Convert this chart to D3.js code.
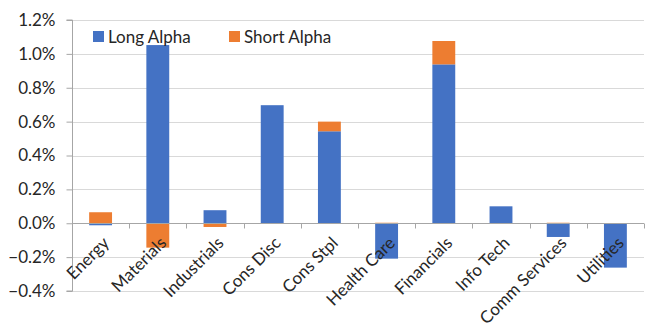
<!DOCTYPE html>
<html>
<head>
<meta charset="utf-8">
<script src="https://cdn.jsdelivr.net/npm/d3@7"></script>
<style>
  html, body { margin: 0; padding: 0; background: #fff; }
  svg { display: block; font-family: Lato, "Open Sans", sans-serif; }
</style>
</head>
<body>
<svg id="chart" width="646" height="327"></svg>
<script>
// Sector alpha contributions (percent)
const sectors = ["Energy", "Materials", "Industrials", "Cons Disc", "Cons Stpl",
                 "Health Care", "Financials", "Info Tech", "Comm Services", "Utilities"];
const longAlpha  = [-0.012, 1.052, 0.077, 0.697, 0.543, -0.209, 0.938, 0.100, -0.081, -0.262];
const shortAlpha = [ 0.065, -0.144, -0.022, 0.000, 0.057, 0.003, 0.138, 0.000, 0.003, 0.000];
const yTicks = [-0.4, -0.2, 0.0, 0.2, 0.4, 0.6, 0.8, 1.0, 1.2];
const seriesNames = ["Long Alpha", "Short Alpha"];
const colors = ["#4472C4", "#ED7D31"];

const svg = d3.select("#chart");
const margin = { left: 72, right: 2, top: 20, bottom: 36 };
const W = 646, H = 327;
const fontSize = "17px";

const x = d3.scaleBand().domain(sectors).range([margin.left, W - margin.right]).paddingInner(0.6).paddingOuter(0.3);
const y = d3.scaleLinear().domain([-0.4, 1.2]).range([H - margin.bottom, margin.top]);

// gridlines
svg.append("g").selectAll("line").data(yTicks).join("line")
  .attr("x1", margin.left).attr("x2", W - margin.right)
  .attr("y1", d => Math.round(y(d)) + 0.5).attr("y2", d => Math.round(y(d)) + 0.5)
  .attr("stroke", "#d9d9d9").attr("stroke-width", 1);

// stacked bars: positives stack upward, negatives downward
const stacks = sectors.map((s, i) => {
  let pos = 0, neg = 0;
  return [longAlpha[i], shortAlpha[i]].map((v, k) => {
    let y0, y1;
    if (v >= 0) { y0 = pos; y1 = pos + v; pos = y1; }
    else { y0 = neg; y1 = neg + v; neg = y1; }
    return { sector: s, k, y0, y1 };
  });
}).flat();

svg.append("g").selectAll("rect").data(stacks).join("rect")
  .attr("x", d => x(d.sector))
  .attr("width", x.bandwidth())
  .attr("y", d => y(Math.max(d.y0, d.y1)))
  .attr("height", d => Math.abs(y(d.y0) - y(d.y1)))
  .attr("fill", d => colors[d.k]);

// y axis
const yAxis = d3.axisLeft(y).tickValues(yTicks).tickSize(6).tickPadding(11)
  .tickFormat(d => d3.format(".1%")(d / 100));
const gy = svg.append("g").attr("transform", `translate(${margin.left + 0.5},0)`).call(yAxis);
gy.select(".domain").attr("stroke", "#a6a6a6").attr("d", `M-6,${y(1.2)}H0V${y(-0.4)}H-6`);
gy.selectAll(".tick line").attr("stroke", "#a6a6a6");
gy.selectAll(".tick text").attr("fill", "#262626").style("font-size", fontSize)
  .style("font-family", "Lato, sans-serif");

// category axis at zero
const y0 = Math.round(y(0)) + 0.5;
const step = x.step();
const bounds = d3.range(sectors.length + 1).map(i => margin.left + i * step);
svg.append("line").attr("x1", margin.left).attr("x2", W - margin.right)
  .attr("y1", y0).attr("y2", y0).attr("stroke", "#a6a6a6");
svg.append("g").selectAll("line").data(bounds).join("line")
  .attr("x1", d => Math.round(d) + 0.5).attr("x2", d => Math.round(d) + 0.5)
  .attr("y1", y0).attr("y2", y0 + 5).attr("stroke", "#a6a6a6");

svg.append("g").selectAll("text").data(sectors).join("text")
  .attr("transform", d => `translate(${x(d) + x.bandwidth() / 2 + 5},${y0 + 16}) rotate(-45)`)
  .attr("text-anchor", "end")
  .attr("dominant-baseline", "central")
  .attr("fill", "#262626").style("font-size", "17px")
  .text(d => d);

// legend
const legend = svg.append("g").selectAll("g").data(seriesNames).join("g")
  .attr("transform", (d, i) => `translate(${93 + i * 136},31)`);
legend.append("rect").attr("width", 11).attr("height", 11).attr("fill", (d, i) => colors[i]);
legend.append("text").attr("x", 15).attr("y", 11.5).attr("fill", "#262626")
  .style("font-size", fontSize).text(d => d);
</script>
</body>
</html>
